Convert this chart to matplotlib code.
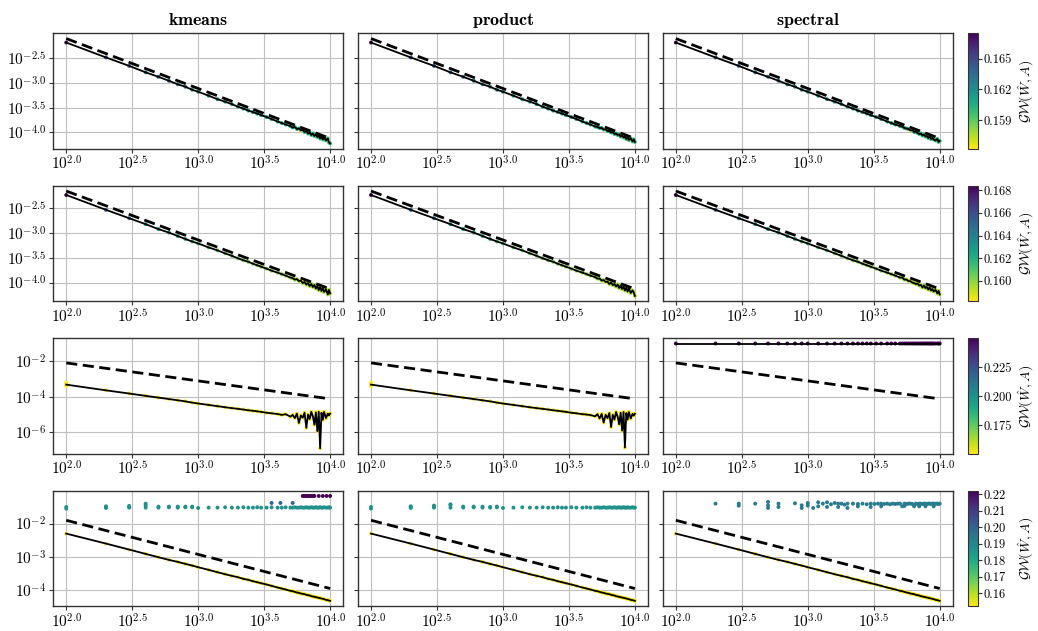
import numpy as np
import matplotlib
matplotlib.use("Agg")
import matplotlib.pyplot as plt
from matplotlib.colors import Normalize
from matplotlib.cm import ScalarMappable
from matplotlib.ticker import FixedLocator, FuncFormatter, NullLocator, FormatStrFormatter

plt.rcParams["mathtext.fontset"] = "cm"
plt.rcParams["font.family"] = "serif"
plt.rcParams["font.serif"] = ["cmr10", "DejaVu Serif"]
plt.rcParams["axes.formatter.use_mathtext"] = True

METHODS = ["kmeans", "product", "spectral"]

# sample sizes n
N = [100, 200, 300, 400, 500, 600, 700, 800, 900, 1000,
     1200, 1400, 1600, 1800, 2000, 2200, 2400, 2600, 2800, 3000,
     3300, 3600, 4000, 4300, 4600, 5000, 5200, 5400, 5600, 5800,
     6000, 6200, 6400, 6600, 6800, 7000, 7200, 7400, 7600, 7800,
     8000, 8200, 8400, 8600, 8800, 9000, 9300, 9600, 9800, 10000]

# log10 of the error
R1_KMEANS = [-2.19, -2.49, -2.66, -2.79, -2.88, -2.96, -3.03, -3.08, -3.14, -3.18,
             -3.26, -3.33, -3.38, -3.43, -3.48, -3.52, -3.56, -3.59, -3.62, -3.65,
             -3.69, -3.73, -3.78, -3.81, -3.84, -3.87, -3.90, -3.89, -3.93, -3.92,
             -3.96, -3.94, -3.99, -3.97, -4.02, -4.00, -4.05, -4.02, -4.07, -4.04,
             -4.09, -4.06, -4.12, -4.08, -4.14, -4.10, -4.16, -4.12, -4.20, -4.22]
R1_PRODUCT = [-2.19, -2.49, -2.66, -2.79, -2.88, -2.96, -3.03, -3.08, -3.14, -3.18,
              -3.26, -3.33, -3.38, -3.43, -3.48, -3.52, -3.56, -3.59, -3.62, -3.65,
              -3.69, -3.73, -3.78, -3.81, -3.84, -3.88, -3.89, -3.91, -3.91, -3.94,
              -3.94, -3.97, -3.97, -4.00, -3.99, -4.03, -4.02, -4.05, -4.04, -4.08,
              -4.06, -4.10, -4.08, -4.13, -4.10, -4.15, -4.12, -4.18, -4.14, -4.19]
R1_SPECTRAL = [-2.19, -2.49, -2.66, -2.79, -2.88, -2.96, -3.03, -3.08, -3.14, -3.18,
               -3.26, -3.33, -3.38, -3.43, -3.48, -3.52, -3.56, -3.59, -3.62, -3.65,
               -3.69, -3.73, -3.78, -3.81, -3.84, -3.87, -3.88, -3.91, -3.92, -3.93,
               -3.96, -3.95, -3.99, -3.98, -4.01, -4.03, -4.02, -4.06, -4.04, -4.08,
               -4.07, -4.11, -4.08, -4.13, -4.11, -4.14, -4.16, -4.13, -4.19, -4.17]

R2_KMEANS = [-2.23, -2.53, -2.70, -2.82, -2.92, -2.99, -3.06, -3.12, -3.17, -3.21,
             -3.29, -3.35, -3.41, -3.46, -3.51, -3.55, -3.58, -3.62, -3.65, -3.68,
             -3.72, -3.76, -3.80, -3.83, -3.86, -3.90, -3.91, -3.94, -3.93, -3.97,
             -3.96, -4.01, -3.99, -4.04, -4.01, -4.07, -4.03, -4.09, -4.05, -4.12,
             -4.07, -4.15, -4.09, -4.17, -4.11, -4.19, -4.14, -4.24, -4.15, -4.22]
R2_PRODUCT = [-2.23, -2.53, -2.70, -2.82, -2.92, -2.99, -3.06, -3.12, -3.17, -3.21,
              -3.29, -3.35, -3.41, -3.46, -3.51, -3.55, -3.58, -3.62, -3.65, -3.68,
              -3.72, -3.76, -3.80, -3.83, -3.86, -3.89, -3.92, -3.92, -3.96, -3.95,
              -3.99, -3.98, -4.03, -4.00, -4.05, -4.03, -4.08, -4.04, -4.11, -4.06,
              -4.13, -4.08, -4.16, -4.10, -4.18, -4.12, -4.21, -4.16, -4.20, -4.27]
R2_SPECTRAL = [-2.23, -2.53, -2.70, -2.82, -2.92, -2.99, -3.06, -3.12, -3.17, -3.21,
               -3.29, -3.35, -3.41, -3.46, -3.51, -3.55, -3.58, -3.62, -3.65, -3.68,
               -3.72, -3.76, -3.80, -3.83, -3.86, -3.90, -3.90, -3.94, -3.94, -3.97,
               -3.97, -4.00, -4.01, -4.03, -4.02, -4.06, -4.05, -4.10, -4.06, -4.11,
               -4.09, -4.14, -4.10, -4.16, -4.13, -4.18, -4.15, -4.22, -4.17, -4.24]

R3_KMEANS = [-3.32, -3.64, -3.82, -3.95, -4.05, -4.13, -4.20, -4.26, -4.33, -4.38,
             -4.46, -4.53, -4.59, -4.64, -4.68, -4.72, -4.76, -4.79, -4.82, -4.85,
             -4.90, -4.93, -4.97, -5.02, -4.98, -5.12, -5.02, -5.20, -4.95, -5.47,
             -5.05, -5.18, -4.90, -5.75, -5.00, -5.25, -4.85, -5.10, -5.57, -4.88,
             -5.93, -4.85, -6.90, -4.90, -5.30, -4.85, -5.20, -4.95, -5.05, -4.95]
R3_PRODUCT = [-3.32, -3.64, -3.82, -3.95, -4.05, -4.13, -4.20, -4.26, -4.33, -4.38,
              -4.46, -4.53, -4.59, -4.64, -4.68, -4.72, -4.76, -4.79, -4.82, -4.85,
              -4.90, -4.93, -4.98, -5.00, -5.03, -5.10, -4.98, -5.22, -4.97, -5.45,
              -5.02, -5.20, -4.92, -5.70, -5.02, -5.28, -4.86, -5.12, -5.55, -4.90,
              -5.90, -4.86, -6.85, -4.92, -5.28, -4.86, -5.22, -4.96, -5.06, -4.96]
R3_SPECTRAL = [-1.01, -1.01, -1.01, -1.01, -1.01, -1.01, -1.01, -1.01, -1.01, -1.01,
               -1.01, -1.01, -1.01, -1.01, -1.01, -1.01, -1.01, -1.01, -1.01, -1.01,
               -1.01, -1.01, -1.01, -1.01, -1.01, -1.01, -1.01, -1.01, -1.01, -1.01,
               -1.01, -1.01, -1.01, -1.01, -1.01, -1.01, -1.01, -1.01, -1.01, -1.01,
               -1.01, -1.01, -1.01, -1.01, -1.01, -1.01, -1.01, -1.01, -1.01, -1.01]
R3_EXTRA_X = [100, 100]
R3_EXTRA_Y = [-3.20, -3.40]

R4_LINE = [-2.30, -2.60, -2.78, -2.91, -3.01, -3.09, -3.15, -3.21, -3.26, -3.31,
           -3.39, -3.46, -3.52, -3.57, -3.61, -3.66, -3.69, -3.73, -3.76, -3.79,
           -3.83, -3.87, -3.92, -3.95, -3.98, -4.02, -4.03, -4.05, -4.07, -4.08,
           -4.10, -4.11, -4.12, -4.14, -4.15, -4.16, -4.18, -4.19, -4.20, -4.21,
           -4.22, -4.23, -4.24, -4.25, -4.26, -4.27, -4.29, -4.30, -4.31, -4.32]
R4_KMEANS_TEAL = [-1.50, -1.48, -1.47, -1.45, -1.52, -1.51, -1.52, -1.51, -1.51, -1.53,
                  -1.52, -1.52, -1.51, -1.52, -1.52, -1.51, -1.52, -1.52, -1.51, -1.52,
                  -1.52, -1.51, -1.52, -1.52, -1.51, -1.52, -1.52, -1.51, -1.52, -1.52,
                  -1.51, -1.52, -1.52, -1.51, -1.52, -1.52, -1.51, -1.52, -1.52, -1.51,
                  -1.52, -1.52, -1.51, -1.52, -1.52, -1.51, -1.52, -1.52, -1.51, -1.52]
R4_PRODUCT_TEAL = [-1.50, -1.48, -1.46, -1.44, -1.52, -1.51, -1.52, -1.52, -1.51, -1.53,
                   -1.52, -1.51, -1.52, -1.52, -1.51, -1.52, -1.52, -1.51, -1.52, -1.52,
                   -1.51, -1.52, -1.52, -1.51, -1.52, -1.52, -1.51, -1.52, -1.52, -1.51,
                   -1.52, -1.52, -1.51, -1.52, -1.52, -1.51, -1.52, -1.52, -1.51, -1.52,
                   -1.52, -1.51, -1.52, -1.52, -1.51, -1.52, -1.52, -1.51, -1.52, -1.52]
R4_KM_EXTRA_X = [100, 200, 200, 300, 300, 400, 400, 500, 600, 700, 800, 900]
R4_KM_EXTRA_Y = [-1.55, -1.53, -1.51, -1.52, -1.49, -1.40, -1.52, -1.49, -1.49, -1.49, -1.49, -1.49]
R4_KM_BLUE_X = [3600, 4200, 5200]
R4_KM_BLUE_Y = [-1.38, -1.38, -1.38]
R4_KM_PURPLE_X = [6200, 6400, 6600, 6800, 7000, 7200, 7400, 7600, 8200, 8800, 9400, 10000]
R4_KM_PURPLE_Y = [-1.17, -1.17, -1.17, -1.17, -1.17, -1.17, -1.17, -1.17, -1.17, -1.17, -1.17, -1.17]
R4_PR_EXTRA_X = [100, 200, 200, 300, 300, 400, 400, 500, 600, 700, 800, 900]
R4_PR_EXTRA_Y = [-1.55, -1.53, -1.50, -1.52, -1.48, -1.42, -1.52, -1.49, -1.49, -1.49, -1.50, -1.49]
SP4_X = [200, 300, 300, 400, 500, 500, 500, 600, 600, 800,
         900, 900, 1000, 1000, 1100, 1200, 1200, 1300, 1400, 1400,
         1500, 1600, 1700, 1700, 1800, 1900, 2000, 2000, 2200, 2400,
         2400, 2600, 2800, 3000, 3000, 3200, 3400, 3600, 3600, 3800,
         4000, 4200, 4400, 4600, 4800, 5000, 5200, 5400, 5400, 5600,
         5800, 6000, 6200, 6400, 6600, 6800, 7000, 7000, 7200, 7400,
         7600, 7800, 7800, 8000, 8200, 8400, 8600, 8800, 9000, 9000,
         9200, 9400, 9600, 9800, 10000]
SP4_Y = [-1.40, -1.40, -1.46, -1.40, -1.35, -1.45, -1.53, -1.40, -1.50, -1.39,
         -1.45, -1.53, -1.38, -1.46, -1.53, -1.36, -1.48, -1.40, -1.36, -1.50,
         -1.42, -1.38, -1.40, -1.50, -1.40, -1.43, -1.40, -1.53, -1.40, -1.41,
         -1.48, -1.40, -1.42, -1.40, -1.50, -1.41, -1.40, -1.40, -1.48, -1.41,
         -1.40, -1.42, -1.40, -1.41, -1.40, -1.40, -1.48, -1.40, -1.47, -1.41,
         -1.40, -1.40, -1.41, -1.48, -1.40, -1.41, -1.40, -1.48, -1.40, -1.41,
         -1.40, -1.40, -1.48, -1.41, -1.40, -1.40, -1.41, -1.40, -1.40, -1.48,
         -1.41, -1.40, -1.40, -1.41, -1.40]

# GW(W, A) colour values of the points
GW1 = [0.1675, 0.1648, 0.1640, 0.1634, 0.1629, 0.1625, 0.1622, 0.1619, 0.1617, 0.1615,
       0.1613, 0.1612, 0.1611, 0.1610, 0.1610, 0.1609, 0.1609, 0.1608, 0.1608, 0.1607,
       0.1607, 0.1606, 0.1606, 0.1606, 0.1605, 0.1605, 0.1605, 0.1604, 0.1604, 0.1604,
       0.1562, 0.1603, 0.1603, 0.1602, 0.1602, 0.1602, 0.1601, 0.1601, 0.1600, 0.1600,
       0.1600, 0.1599, 0.1599, 0.1599, 0.1598, 0.1598, 0.1598, 0.1597, 0.1597, 0.1597]
GW2 = [0.1684, 0.1652, 0.1641, 0.1634, 0.1628, 0.1624, 0.1620, 0.1617, 0.1614, 0.1612,
       0.1609, 0.1607, 0.1605, 0.1604, 0.1603, 0.1602, 0.1602, 0.1601, 0.1601, 0.1600,
       0.1600, 0.1600, 0.1599, 0.1599, 0.1599, 0.1598, 0.1598, 0.1598, 0.1598, 0.1598,
       0.1582, 0.1597, 0.1597, 0.1597, 0.1597, 0.1597, 0.1596, 0.1596, 0.1596, 0.1596,
       0.1596, 0.1596, 0.1595, 0.1595, 0.1595, 0.1595, 0.1595, 0.1595, 0.1595, 0.1595]

# dashed reference rate, endpoints at n=100 and n=10000 (log10)
DASH_N = [100, 10000]
DASH = [[-2.11, -4.12], [-2.15, -4.13], [-2.10, -4.12], [-1.90, -3.95]]

LINES = [[R1_KMEANS, R1_PRODUCT, R1_SPECTRAL],
         [R2_KMEANS, R2_PRODUCT, R2_SPECTRAL],
         [R3_KMEANS, R3_PRODUCT, R3_SPECTRAL],
         [R4_LINE, R4_LINE, R4_LINE]]

POINTS = [
    [[(N, R1_KMEANS, GW1)], [(N, R1_PRODUCT, GW1)], [(N, R1_SPECTRAL, GW1)]],
    [[(N, R2_KMEANS, GW2)], [(N, R2_PRODUCT, GW2)], [(N, R2_SPECTRAL, GW2)]],
    [[(N, R3_KMEANS, 0.1503), (R3_EXTRA_X, R3_EXTRA_Y, 0.1503)],
     [(N, R3_PRODUCT, 0.1503), (R3_EXTRA_X, R3_EXTRA_Y, 0.1503)],
     [(N, R3_SPECTRAL, 0.2503)]],
    [[(N, R4_LINE, 0.1524), (N, R4_KMEANS_TEAL, 0.187), (R4_KM_EXTRA_X, R4_KM_EXTRA_Y, 0.187),
      (R4_KM_BLUE_X, R4_KM_BLUE_Y, 0.200), (R4_KM_PURPLE_X, R4_KM_PURPLE_Y, 0.222)],
     [(N, R4_LINE, 0.1524), (N, R4_PRODUCT_TEAL, 0.187), (R4_PR_EXTRA_X, R4_PR_EXTRA_Y, 0.187)],
     [(N, R4_LINE, 0.1524), (SP4_X, SP4_Y, 0.193)]],
]

X_TICKS = [2.0, 2.5, 3.0, 3.5, 4.0]
Y_TICKS = [[-2.5, -3.0, -3.5, -4.0], [-2.5, -3.0, -3.5, -4.0], [-2, -4, -6], [-2, -3, -4]]
Y_DEC = [1, 1, 0, 0]
CB_TICKS = [[0.159, 0.162, 0.165],
            [0.160, 0.162, 0.164, 0.166, 0.168],
            [0.175, 0.200, 0.225],
            [0.16, 0.17, 0.18, 0.19, 0.20, 0.21, 0.22]]
CB_FMT = ["%.3f", "%.3f", "%.3f", "%.2f"]


def exp_formatter(dec):
    return FuncFormatter(lambda v, p: rf"$10^{{{np.log10(v):.{dec}f}}}$")


fig, axes = plt.subplots(4, 3, figsize=(10.38, 6.31), dpi=100, sharey="row")
fig.subplots_adjust(left=0.0511, right=0.918, bottom=0.0395, top=0.9472,
                    wspace=0.05, hspace=0.322)
cmap = "viridis_r"

for r in range(4):
    allc = []
    for c in range(3):
        for xs, ys, cs in POINTS[r][c]:
            allc.extend(np.broadcast_to(np.asarray(cs, float), (len(xs),)))
    norm = Normalize(min(allc), max(allc))

    for c in range(3):
        ax = axes[r][c]
        ax.set_xscale("log")
        ax.set_yscale("log")
        for xs, ys, cs in POINTS[r][c]:
            cvals = np.broadcast_to(np.asarray(cs, float), (len(xs),))
            ax.scatter(xs, 10 ** np.asarray(ys), c=cvals, cmap=cmap, norm=norm,
                       s=8, linewidths=0, zorder=2)
        ax.plot(N, 10 ** np.asarray(LINES[r][c]), color="k", lw=1.3, zorder=3)
        ax.plot(DASH_N, 10 ** np.asarray(DASH[r]), color="k", lw=2.0,
                ls=(0, (4, 2)), zorder=3)

        ax.xaxis.set_major_locator(FixedLocator([10 ** e for e in X_TICKS]))
        ax.xaxis.set_major_formatter(exp_formatter(1))
        ax.xaxis.set_minor_locator(NullLocator())
        ax.yaxis.set_major_locator(FixedLocator([10 ** e for e in Y_TICKS[r]]))
        ax.yaxis.set_major_formatter(exp_formatter(Y_DEC[r]))
        ax.yaxis.set_minor_locator(NullLocator())

        ax.grid(True, color="0.75", lw=0.8)
        ax.set_axisbelow(True)
        for sp in ax.spines.values():
            sp.set_color("#333333")
            sp.set_linewidth(1.0)
        ax.tick_params(labelsize=11, color="#333333", length=3, pad=2)
        ax.tick_params(axis="x", pad=1.5)
        if r == 0:
            ax.set_title(rf"$\mathbf{{{METHODS[c]}}}$", fontsize=13, pad=6)

    pos = axes[r][2].get_position()
    cax = fig.add_axes([968 / 1038, pos.y0, 10 / 1038, pos.height])
    cb = fig.colorbar(ScalarMappable(norm=norm, cmap=cmap), cax=cax)
    cb.set_ticks(CB_TICKS[r])
    cb.ax.yaxis.set_major_formatter(FormatStrFormatter(CB_FMT[r]))
    cb.ax.tick_params(labelsize=9, color="#333333", length=3, pad=1)
    cb.outline.set_edgecolor("#333333")
    cb.set_label(r"$\mathcal{GW}(\hat{W}, A)$", fontsize=10)
    cb.ax.yaxis.set_label_coords(4.85, 0.5)

fig.savefig("out.png", dpi=100)
